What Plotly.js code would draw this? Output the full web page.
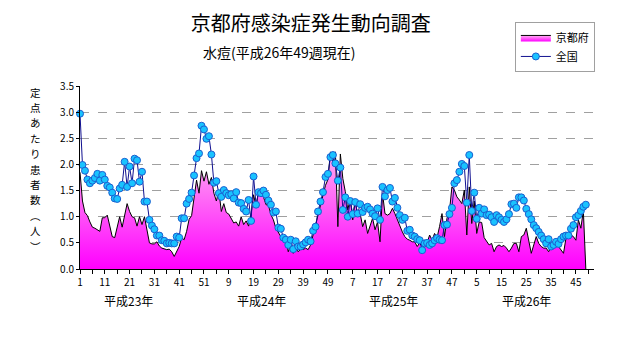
<!DOCTYPE html>
<html><head><meta charset="utf-8">
<script src="https://cdn.plot.ly/plotly-3.0.1.min.js"></script>
<style>body{margin:0;background:#fff}#chart{width:631px;height:347px}</style>
</head><body><div id="chart"></div>
<script>
const yearNames = ['平成23年','平成24年','平成25年','平成26年'];
const weeksPerYear = [52,52,52,49];
const yTitleChars = ['定','点','あ','た','り','患','者','数','︵','人','︶'];

// 京都府 (定点あたり患者数)
const kyoto23 = [1.85,1.30,1.08,1.02,0.90,0.80,0.78,0.75,0.72,0.98,
  0.98,1.03,0.80,0.62,0.60,0.78,1.00,0.80,1.05,1.25,
  1.10,1.00,0.98,0.82,1.00,0.85,1.00,0.72,0.50,0.48,
  0.48,0.52,0.44,0.40,0.38,0.37,0.38,0.33,0.24,0.33,
  0.43,0.60,0.56,0.72,0.95,1.02,1.35,1.70,1.45,1.88,
  1.68,1.86];
const kyoto24 = [1.62,1.75,1.45,1.30,1.50,1.10,1.25,1.08,1.05,0.95,
  0.88,0.90,0.82,1.00,0.85,0.92,0.82,1.05,1.42,1.20,
  1.47,1.43,1.38,1.23,1.22,1.04,0.94,0.78,0.69,0.62,
  0.60,0.56,0.33,0.46,0.30,0.40,0.33,0.38,0.37,0.40,
  0.37,0.46,0.65,0.85,1.04,1.23,1.42,1.60,1.71,2.24,
  2.05,2.24];
const kyoto25 = [0.81,2.20,1.73,1.48,1.13,1.35,0.94,1.32,1.00,1.06,
  0.81,0.94,0.68,0.84,0.97,0.75,0.90,0.52,1.45,1.06,
  1.03,1.06,1.16,1.06,0.94,0.81,0.71,0.62,0.57,0.55,
  0.52,0.52,0.43,0.50,0.43,0.55,0.50,0.65,0.55,0.68,
  0.60,0.81,1.06,0.62,0.97,1.10,1.57,1.51,1.38,1.32,
  1.25,1.51];
const kyoto26 = [0.65,1.57,0.87,1.30,0.68,0.90,0.89,0.60,0.52,0.46,
  0.49,0.33,0.43,0.46,0.43,0.45,0.40,0.33,0.40,0.49,
  0.49,0.33,0.62,0.65,0.78,0.57,0.30,0.46,0.62,0.49,
  0.43,0.40,0.40,0.33,0.43,0.46,0.49,0.43,0.36,0.30,
  0.59,0.65,0.65,0.62,0.55,0.94,0.78,1.12,0];

// 全国
const zenkoku23 = [2.97,1.99,1.88,1.71,1.64,1.69,1.74,1.82,1.69,1.80,
  1.71,1.59,1.56,1.46,1.35,1.34,1.54,1.61,2.05,1.57,
  1.96,1.64,2.11,2.08,1.67,1.86,1.29,1.29,0.94,0.83,
  0.76,0.64,0.64,0.55,0.54,0.49,0.50,0.49,0.49,0.62,
  0.60,0.97,0.97,1.25,1.34,1.46,1.79,2.12,2.21,2.74,
  2.67,2.49];
const zenkoku24 = [2.54,2.19,1.65,1.68,1.45,1.38,1.51,1.45,1.41,1.43,
  1.35,1.47,1.27,1.26,1.15,1.10,1.32,0.92,1.77,1.23,
  1.47,1.45,1.50,1.42,1.31,1.23,1.08,1.10,0.79,0.77,
  0.60,0.56,0.46,0.56,0.38,0.53,0.43,0.43,0.47,0.51,
  0.56,0.53,0.73,0.81,1.10,1.29,1.47,1.76,1.82,2.14,
  2.18,2.02];
const zenkoku25 = [1.69,1.94,1.13,1.37,1.00,1.30,1.05,1.28,1.06,1.24,
  1.09,1.17,1.19,1.14,1.06,1.01,1.16,0.94,1.57,1.39,
  1.51,1.55,1.29,1.36,1.17,1.03,0.94,0.98,0.73,0.75,
  0.64,0.62,0.57,0.55,0.36,0.49,0.50,0.46,0.49,0.55,
  0.59,0.56,0.55,0.84,0.85,1.05,1.17,1.64,1.70,1.86,
  2.01,1.97];
const zenkoku26 = [1.27,2.18,1.11,1.46,0.96,1.17,1.06,1.14,1.03,1.04,
  0.99,0.90,1.03,0.99,0.94,0.90,0.95,1.05,1.24,1.25,
  1.17,1.37,1.37,1.31,1.15,1.05,0.95,0.84,0.78,0.71,
  0.64,0.57,0.49,0.57,0.43,0.46,0.52,0.48,0.57,0.62,
  0.64,0.64,0.77,0.84,0.99,1.03,1.11,1.19,1.23];

const kyoto = [].concat(kyoto23, kyoto24, kyoto25, kyoto26);
const zenkoku = [].concat(zenkoku23, zenkoku24, zenkoku25, zenkoku26);

// week labels / category positions
const weekLabels = [];
weeksPerYear.forEach(n => { for (let w = 1; w <= n; w++) weekLabels.push(String(w)); });
const xs = weekLabels.map((_, i) => i);

const tickvals = [], ticktext = [];
for (let i = 0; i <= 205; i += 5) {
  tickvals.push(i);
  ticktext.push(i % 10 === 0 && i < weekLabels.length ? weekLabels[i] : '');
}

const FONT = '"Noto Sans CJK JP", "Noto Sans", sans-serif';

const traces = [
  {
    x: xs, y: kyoto, name: '京都府', type: 'scatter', mode: 'lines',
    line: {color: '#000000', width: 1},
    fill: 'tozeroy',
    fillcolor: '#ff55ff',
    fillgradient: {type: 'vertical', start: 0, stop: 2.3,
      colorscale: [[0, '#ff00ff'], [1, '#ffb4f0']]}
  },
  {
    x: xs, y: zenkoku, name: '全国', type: 'scatter', mode: 'lines+markers',
    line: {color: '#101090', width: 1},
    marker: {symbol: 'circle', size: 7, color: '#19c3ff', line: {color: '#1a5fd0', width: 1}},
    cliponaxis: false
  }
];

const yearPos = [19.4, 73, 126.6, 180];
const annotations = yearNames.map((t, k) => ({
  text: t, xref: 'x', yref: 'paper', x: yearPos[k], y: -0.17,
  showarrow: false, font: {size: 12, color: '#000', family: FONT}, yanchor: 'middle'
}));
// vertical (upright) y-axis title, one character per line
const plotTop = 86, plotH = 183;
yTitleChars.forEach((c, k) => {
  const ypix = 92 + k * 15.4;
  annotations.push({
    text: c, xref: 'paper', yref: 'paper', x: -0.087, xanchor: 'center',
    y: (plotTop + plotH - ypix) / plotH, yanchor: 'middle', showarrow: false,
    font: {size: 10.5, color: '#000', family: FONT}
  });
});
annotations.push({
  text: '水痘(平成26年49週現在)', xref: 'paper', yref: 'paper',
  x: 0.389, y: 1.186, xanchor: 'center', yanchor: 'middle', showarrow: false,
  font: {size: 14, color: '#000', family: FONT}
});

const layout = {
  width: 631, height: 347,
  margin: {l: 80, r: 37, t: 86, b: 78},
  paper_bgcolor: '#ffffff', plot_bgcolor: '#ffffff',
  font: {family: FONT, color: '#000'},
  title: {text: '京都府感染症発生動向調査', x: 0.449, xref: 'paper', y: 0.93, yanchor: 'middle',
    font: {size: 20, color: '#000', family: FONT}},
  showlegend: true,
  legend: {x: 0.846, y: 1.35, xanchor: 'left', yanchor: 'top',
    bordercolor: '#a0a0a0', borderwidth: 1, bgcolor: '#fff',
    font: {size: 11, family: FONT}, tracegroupgap: 0, itemwidth: 30},
  xaxis: {
    range: [0, 207.3], tickmode: 'array', tickvals: tickvals, ticktext: ticktext,
    ticks: 'outside', ticklen: 4, tickcolor: '#000', showline: true, linecolor: '#000', linewidth: 1,
    showgrid: false, zeroline: false, tickfont: {size: 10, family: FONT}, tickangle: 0
  },
  yaxis: {
    range: [0, 3.5], dtick: 0.5, tickformat: '.1f', ticks: 'outside', ticklen: 3, tickcolor: '#000',
    showline: true, linecolor: '#000', linewidth: 1, showgrid: true, gridcolor: '#a0a0a0',
    griddash: 'dash', gridwidth: 1, zeroline: false, tickfont: {size: 10, family: FONT}
  },
  annotations: annotations
};

Plotly.newPlot('chart', traces, layout, {displayModeBar: false, staticPlot: true});
</script>
</body></html>
